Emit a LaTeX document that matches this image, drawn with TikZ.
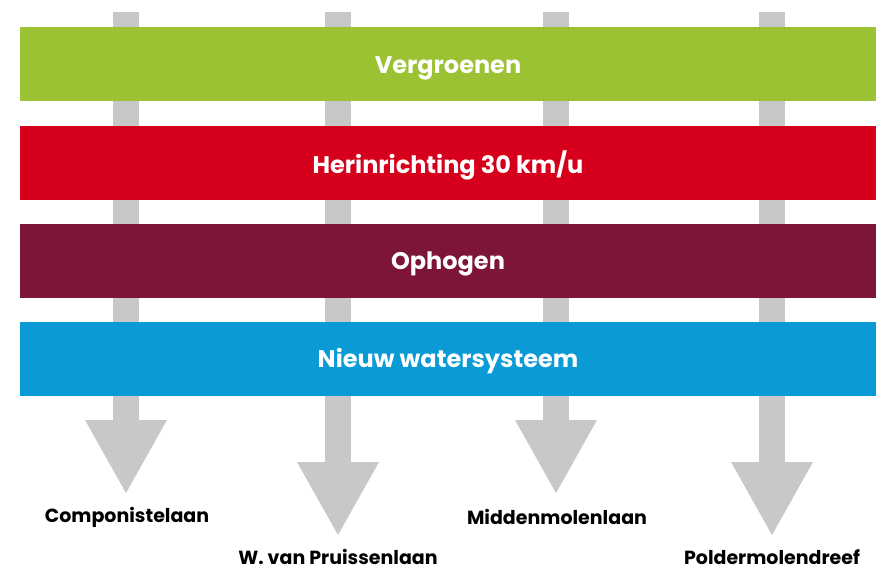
\documentclass[tikz,border=0pt]{standalone}
\usepackage{fontspec}
\setmainfont{Poppins}
\definecolor{cgreen}{HTML}{9BC232}
\definecolor{cred}{HTML}{D6001C}
\definecolor{cmaroon}{HTML}{7D1538}
\definecolor{cblue}{HTML}{0A9AD6}
\definecolor{cgray}{HTML}{C8C8C8}
\begin{document}
\begin{tikzpicture}[x=1pt,y=-1pt,
  bar/.style={fill=#1,draw=none,minimum width=856pt,minimum height=74pt,inner sep=0},
  bartext/.style={text=white,inner sep=0,font=\fontsize{24}{28}\selectfont\bfseries},
  lbl/.style={font=\fontsize{19}{22}\selectfont\bfseries,text=black,inner sep=0}]
\useasboundingbox (0,0) rectangle (894,582);
\foreach \x/\t in {126/420,338/462,556/420,772/462}{
  \fill[cgray] (\x-13,12) rectangle (\x+13,\t);
  \fill[cgray] (\x-41,\t) -- (\x+41,\t) -- (\x,\t+73) -- cycle;
}
\node[bar=cgreen] (b1) at (448,64) {};
\node[bar=cred] (b2) at (448,162.5) {};
\node[bar=cmaroon] (b3) at (448,260.5) {};
\node[bar=cblue] (b4) at (448,358.5) {};
\node[bartext] (t1) at ([yshift=-4pt]b1.center) {Vergroenen};
\node[bartext] (t2) at ([yshift=-3pt]b2.center) {Herinrichting 30 km/u};
\node[bartext] (t3) at ([yshift=-3pt]b3.center) {Ophogen};
\node[bartext] (t4) at ([yshift=-3pt]b4.center) {Nieuw watersysteem};
\node[lbl] (l1) at (127,517) {Componistelaan};
\node[lbl] (l2) at (338,557) {W. van Pruissenlaan};
\node[lbl] (l3) at (557,517) {Middenmolenlaan};
\node[lbl] (l4) at (772,557) {Poldermolendreef};
\end{tikzpicture}
\end{document}
